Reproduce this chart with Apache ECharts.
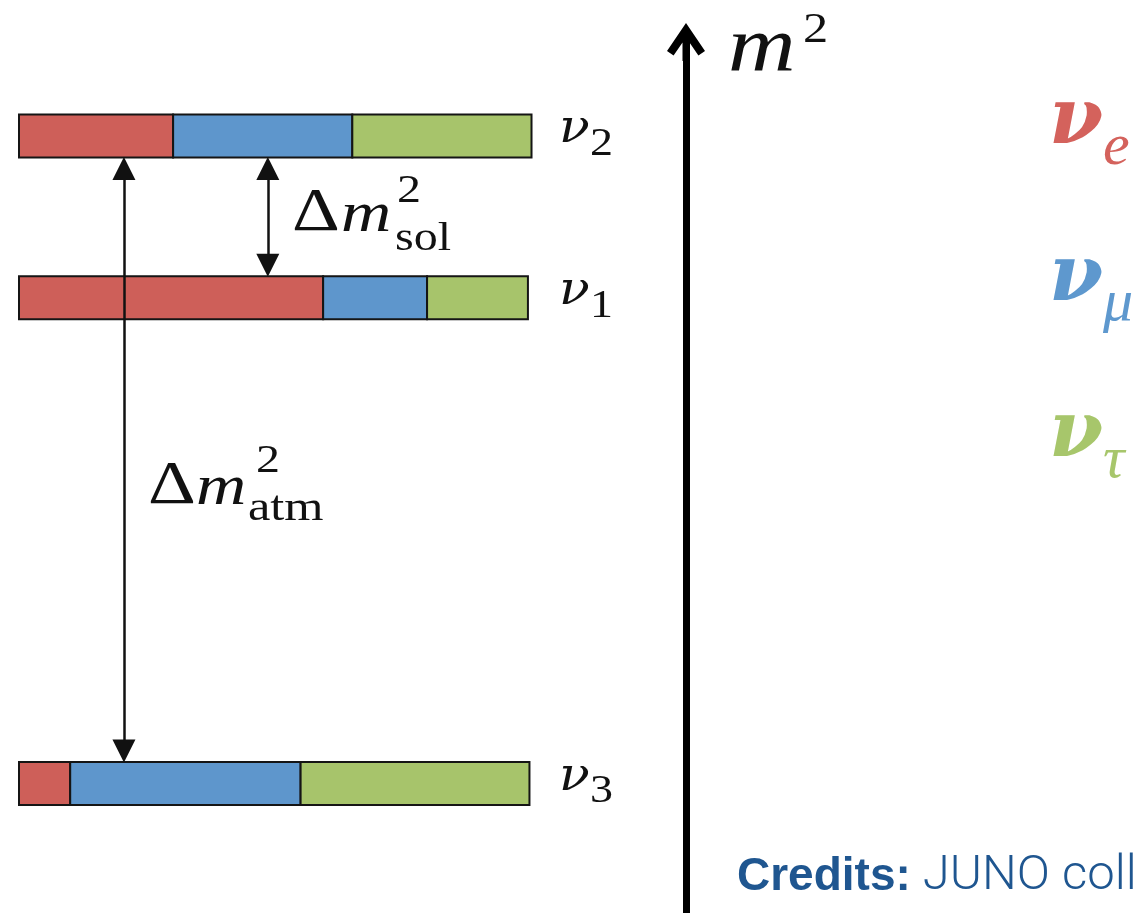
<!DOCTYPE html>
<html>
<head>
<meta charset="utf-8">
<script src="https://cdn.jsdelivr.net/npm/echarts@6/dist/echarts.min.js"></script>
<style>
  html, body { margin: 0; padding: 0; background: #fff; }
  #root { width: 1143px; height: 913px; }
</style>
</head>
<body>
<div id="root"></div>
<script>
// mass states, top to bottom
const states = ['ν2', 'ν1', 'ν3'];
const stateSubs = ['2', '1', '3'];
const levels = [4, 3, 0];

// flavour content of each mass state (same order as states)
const flavours = ['ν_e', 'ν_μ', 'ν_τ'];
const flavourSubs = ['e', 'μ', 'τ'];
const nuE = [0.301, 0.594, 0.10];
const nuMu = [0.35, 0.203, 0.45];
const nuTau = [0.35, 0.197, 0.447];

const barColors = ['#ce5f59', '#5e96cc', '#a7c46b'];
const legendColors = ['#d4625c', '#5e98ce', '#a7c66b'];

const barHalf = 0.133;   // half bar height, in m2 units
const tipInset = 0.068;  // half arrow head
const solX = 0.486;
const atmX = 0.205;

const serif = 'Liberation Serif';
const nuFont = 'DejaVu Serif';

let fractions = [nuE, nuMu, nuTau];
let segData = fractions.map(function () { return []; });
states.forEach(function (s, i) {
    let start = 0;
    fractions.forEach(function (f, k) {
        segData[k].push([start, start + f[i], levels[i]]);
        start += f[i];
    });
});

function renderSegment(params, api) {
    let a = api.coord([api.value(0), api.value(2) + barHalf]);
    let b = api.coord([api.value(1), api.value(2) - barHalf]);
    return {
        type: 'rect',
        shape: { x: a[0], y: a[1], width: b[0] - a[0], height: b[1] - a[1] },
        style: { fill: api.visual('color'), stroke: '#151515', lineWidth: 2 }
    };
}

function renderLevelLabel(params, api) {
    let p = api.coord([api.value(0), api.value(1)]);
    return {
        type: 'group',
        children: [
            { type: 'text', x: p[0] + 28, y: p[1] + 10 - 0.346 * 46, scaleX: 1.1,
              style: { text: 'ν', fontFamily: nuFont, fontStyle: 'italic', fontSize: 46, fill: '#111', align: 'left', verticalAlign: 'middle' } },
            { type: 'text', x: p[0] + 59, y: p[1] + 22 - 0.3375 * 40, scaleX: 1.15,
              style: { text: stateSubs[params.dataIndex], fontFamily: serif, fontSize: 40, fill: '#111', align: 'left', verticalAlign: 'middle' } }
        ]
    };
}

// text helper: x = left edge, base = baseline
function txt(str, x, base, size, italic) {
    return {
        type: 'text', x: x, y: base - 0.3375 * size, scaleX: 1.2,
        style: { text: str, fontFamily: serif, fontSize: size, fontStyle: italic ? 'italic' : 'normal',
                 fill: '#111', align: 'left', verticalAlign: 'middle' }
    };
}

let series = flavours.map(function (name, k) {
    return {
        name: name,
        type: 'custom',
        xAxisIndex: 0, yAxisIndex: 0,
        color: barColors[k],
        renderItem: renderSegment,
        data: segData[k],
        clip: false
    };
});

series.push({
    name: 'levels',
    type: 'custom',
    xAxisIndex: 0, yAxisIndex: 0,
    renderItem: renderLevelLabel,
    data: levels.map(function (lv, i) { return { name: states[i], value: [1, lv] }; }),
    clip: false,
    markLine: {
        silent: true,
        symbol: ['triangle', 'triangle'],
        symbolSize: 23,
        label: { show: false },
        lineStyle: { color: '#111', width: 2.5, type: 'solid' },
        emphasis: { disabled: true },
        data: [
            [{ coord: [solX, levels[0] - barHalf - tipInset] }, { coord: [solX, levels[1] + barHalf + tipInset] }],
            [{ coord: [atmX, levels[0] - barHalf - tipInset] }, { coord: [atmX, levels[2] + barHalf + tipInset] }]
        ]
    }
});

let root = document.getElementById('root');
let myCharts = echarts.init(root);
let option = {
    backgroundColor: '#fff',
    animation: false,
    title: {
        text: '{b|Credits:}{r| JUNO coll}',
        left: 737,
        top: 854,
        padding: 0,
        textStyle: {
            color: '#1f5690',
            rich: {
                b: { fontFamily: 'Liberation Sans', fontWeight: 'bold', fontSize: 46, lineHeight: 46, color: '#1f5690' },
                r: { fontFamily: 'Roboto', fontWeight: 300, fontSize: 49, lineHeight: 46, color: '#1f5690' }
            }
        }
    },
    legend: {
        orient: 'vertical',
        left: 1044,
        top: 84,
        padding: 0,
        itemWidth: 0,
        itemHeight: 0,
        itemGap: 62.5,
        icon: 'none',
        selectedMode: false,
        data: flavours.map(function (n, i) { return { name: n, textStyle: { color: legendColors[i] } }; }),
        formatter: function (name) {
            return '{n|ν}{s|' + flavourSubs[flavours.indexOf(name)] + '}';
        },
        textStyle: {
            rich: {
                n: { fontFamily: nuFont, fontStyle: 'italic', fontWeight: 'bold', fontSize: 78, lineHeight: 100 },
                s: { fontFamily: serif, fontStyle: 'italic', fontSize: 60, lineHeight: 50, height: 50, verticalAlign: 'bottom' }
            }
        }
    },
    grid: [
        { left: 19, width: 512, top: 38.8, height: 874.8 },
        { left: 686, width: 1, top: 42, bottom: 0 }
    ],
    xAxis: [
        { gridIndex: 0, type: 'value', min: 0, max: 1, show: false },
        { gridIndex: 1, type: 'value', min: 0, max: 1, show: false }
    ],
    yAxis: [
        { gridIndex: 0, type: 'value', min: -0.8, max: 4.6, show: false },
        {
            gridIndex: 1, type: 'value', min: 0, max: 1,
            axisLine: {
                show: true,
                symbol: ['none', 'path://M19,0 L38,28 L31.4,32.5 L22.5,19.4 L22.5,38 L15.5,38 L15.5,19.4 L6.6,32.5 L0,28 Z'],
                symbolSize: [38, 38],
                lineStyle: { color: '#000', width: 7 }
            },
            axisTick: { show: false },
            axisLabel: { show: false },
            splitLine: { show: false }
        }
    ],
    graphic: [
        txt('Δ', 292, 235, 62, false),
        txt('m', 341, 235, 58, true),
        txt('2', 397, 205, 40, false),
        txt('sol', 395, 253, 40, false),
        txt('Δ', 148, 508, 62, false),
        txt('m', 196, 508, 58, true),
        txt('2', 256, 475, 40, false),
        txt('atm', 248, 523, 42, false),
        txt('m', 728, 77, 78, true),
        txt('2', 803, 45, 42, false)
    ],
    series: series
};
myCharts.setOption(option);
</script>
</body>
</html>
